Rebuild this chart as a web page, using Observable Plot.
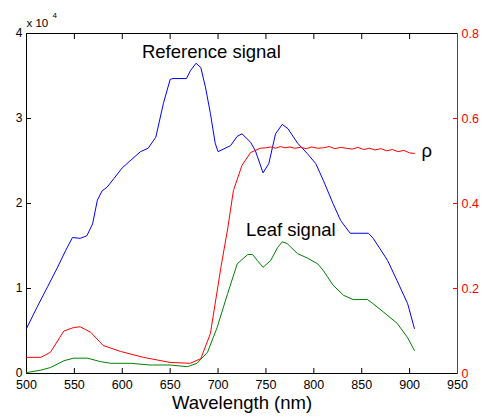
<!DOCTYPE html>
<html>
<head>
<meta charset="utf-8">
<script src="https://cdn.jsdelivr.net/npm/d3@7"></script>
<script src="https://cdn.jsdelivr.net/npm/@observablehq/plot@0.6"></script>
<style>
  html, body { margin: 0; padding: 0; background: #fff; }
  #chart svg { font-family: "Liberation Sans", Arial, sans-serif; }
</style>
</head>
<body>
<div id="chart"></div>
<script>
// Reference signal (units of 1e4)
const refWl  = [500,511,522,532,541,548,556,563,569,574,579,584,591,600,609,619,627,635,643,650,653,667,671,677,682,687,692,697,700,713,720,725,734,739,747,753,760,767,773,783,793,802,810,820,828,838,847,857,862,877,887,898,905];
const refVal = [0.53,0.78,1.02,1.24,1.45,1.60,1.59,1.62,1.76,2.04,2.15,2.19,2.29,2.42,2.51,2.61,2.65,2.78,3.18,3.46,3.47,3.47,3.56,3.65,3.60,3.36,3.06,2.71,2.61,2.68,2.79,2.82,2.72,2.62,2.36,2.47,2.82,2.93,2.88,2.71,2.59,2.47,2.27,2.00,1.80,1.65,1.65,1.65,1.59,1.33,1.09,0.82,0.53];

// Leaf signal (units of 1e4)
const leafWl  = [500,515,525,539,549,564,577,588,609,629,650,668,678,689,699,710,720,731,736,741,747,755,762,767,772,783,793,804,810,820,831,841,856,862,873,887,898,905];
const leafVal = [0.01,0.04,0.07,0.15,0.18,0.18,0.14,0.12,0.12,0.10,0.10,0.08,0.12,0.25,0.54,0.94,1.29,1.40,1.40,1.33,1.25,1.33,1.48,1.55,1.53,1.41,1.36,1.29,1.21,1.04,0.92,0.87,0.87,0.82,0.72,0.59,0.42,0.27];

// Reflectance rho (right axis)
const rhoWl  = [500,515,525,539,549,556,567,580,598,622,650,671,682,692,703,710,716,725,734,744,750,755,760,765,770,775,780,786,792,798,804,810,816,822,828,834,840,846,852,858,864,870,876,882,888,894,900,905];
const rhoVal = [0.038,0.038,0.050,0.100,0.108,0.110,0.097,0.066,0.052,0.038,0.026,0.024,0.035,0.094,0.250,0.340,0.430,0.490,0.520,0.530,0.531,0.533,0.530,0.534,0.531,0.533,0.530,0.532,0.529,0.533,0.530,0.531,0.534,0.529,0.532,0.530,0.528,0.532,0.527,0.530,0.526,0.529,0.524,0.527,0.522,0.525,0.519,0.518];

const xTicks = [500,550,600,650,700,750,800,850,900,950];
const yTicks = [0,1,2,3,4];
const rhoTicks = [0,0.2,0.4,0.6,0.8];
const RHO_TO_Y = 4 / 0.8;

const ref = refWl.map((w,i) => ({w, v: refVal[i]}));
const leaf = leafWl.map((w,i) => ({w, v: leafVal[i]}));
const rho = rhoWl.map((w,i) => ({w, v: rhoVal[i]}));

const labels = [
  {w: 693, v: 3.78, t: "Reference signal"},
  {w: 776, v: 1.69, t: "Leaf signal"},
  {w: 918, v: 2.62, t: "ρ"}
];

const chart = Plot.plot({
  width: 486,
  height: 417,
  marginLeft: 26,
  marginRight: 29,
  marginTop: 33,
  marginBottom: 44,
  style: {fontFamily: "Liberation Sans, Arial, sans-serif", fontSize: "12px", color: "black", background: "white"},
  x: {domain: [500, 950]},
  y: {domain: [0, 4]},
  marks: [
    Plot.axisX({anchor: "bottom", ticks: xTicks, tickSize: -5, tickPadding: 12, fontSize: 12.5, label: null, tickFormat: d => String(d)}),
    Plot.axisX({anchor: "top", ticks: xTicks, tickSize: -5, tickFormat: () => "", label: null}),
    Plot.axisY({anchor: "left", ticks: yTicks, tickSize: -5, tickPadding: 9, fontSize: 12, label: null, tickFormat: d => String(d)}),
    Plot.axisY({anchor: "right", ticks: rhoTicks.map(r => r * RHO_TO_Y), tickSize: -5, tickPadding: 9, fontSize: 12.5, label: null, color: "red", stroke: "red", tickFormat: d => { const r = d / RHO_TO_Y; return r === 0 ? "0" : r.toFixed(1); }}),
    Plot.ruleY([0], {stroke: "black", strokeWidth: 1}),
    Plot.ruleY([4], {stroke: "black", strokeWidth: 1}),
    Plot.ruleX([500], {stroke: "black", strokeWidth: 1}),
    Plot.ruleX([950], {stroke: "red", strokeWidth: 1}),
    Plot.line(ref, {x: "w", y: "v", stroke: "blue", strokeWidth: 1}),
    Plot.line(leaf, {x: "w", y: "v", stroke: "green", strokeWidth: 1}),
    Plot.line(rho, {x: "w", y: d => d.v * RHO_TO_Y, stroke: "red", strokeWidth: 1}),
    Plot.text(labels, {x: "w", y: "v", text: "t", fontSize: 18.5, fill: "black"}),
    Plot.text(["x 10"], {frameAnchor: "top-left", dx: 0, dy: -15, textAnchor: "start", fontSize: 11.5, fill: "black"}),
    Plot.text(["4"], {frameAnchor: "top-left", dx: 26, dy: -21, textAnchor: "start", fontSize: 8, fill: "black"}),
    Plot.text(["Wavelength (nm)"], {frameAnchor: "bottom", dy: 35.5, fontSize: 18.5, fill: "black"})
  ]
});
document.getElementById("chart").appendChild(chart);
</script>
</body>
</html>
